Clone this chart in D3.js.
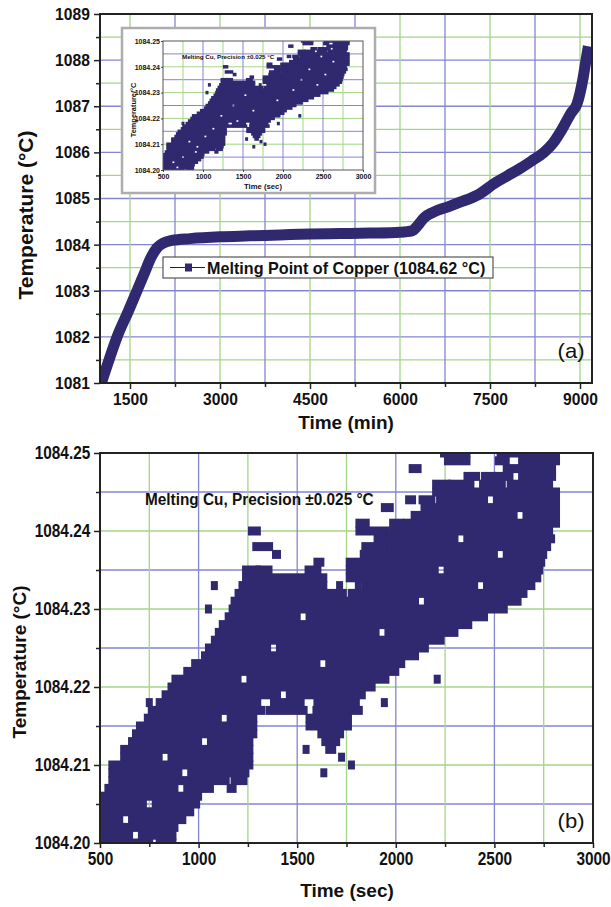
<!DOCTYPE html>
<html>
<head>
<meta charset="utf-8">
<script src="https://cdnjs.cloudflare.com/ajax/libs/d3/7.8.5/d3.min.js"></script>
<style>
body{margin:0;background:#fff}
text{font-family:Arial,"Liberation Sans",Helvetica,sans-serif}
</style>
</head>
<body>
<svg id="chart" width="611" height="907"></svg>
<script>
// ---- panel (a): melting curve ----
var curveTime = [1010,1150,1300,1470,1600,1730,1850,1950,2050,2200,2500,3000,3500,4000,4500,5000,5500,6000,6200,6300,6400,6550,6800,7000,7300,7600,7800,8000,8200,8400,8550,8700,8850,8950,9050,9100,9140];
var curveTemp = [1080.95,1081.5,1082.05,1082.55,1082.95,1083.35,1083.72,1083.93,1084.03,1084.09,1084.13,1084.17,1084.19,1084.21,1084.23,1084.24,1084.25,1084.27,1084.3,1084.42,1084.58,1084.7,1084.82,1084.92,1085.08,1085.35,1085.5,1085.65,1085.82,1086.0,1086.2,1086.5,1086.85,1087.05,1087.6,1088.0,1088.3];
var xTicksA = [1500,3000,4500,6000,7500,9000];
var xMinorA = [2250,3750,5250,6750,8250];
var yTicksA = [1081,1082,1083,1084,1085,1086,1087,1088,1089];
var yMinorA = [1081.5,1082.5,1083.5,1084.5,1085.5,1086.5,1087.5,1088.5];

// ---- panel (b): plateau readings, rows of marks [temp, from sec, to sec] ----
var cloudRows = [
 [1084.200,500,752],[1084.200,800,870],
 [1084.201,500,650],[1084.201,710,870],
 [1084.202,500,880],
 [1084.203,500,600],[1084.203,660,920],
 [1084.204,500,960],
 [1084.205,500,720],[1084.205,780,990],
 [1084.206,520,1000],
 [1084.207,540,880],[1084.207,940,1060],[1084.207,1160,1175],
 [1084.208,560,1140],[1084.208,1180,1230],
 [1084.209,560,900],[1084.209,960,1240],
 [1084.210,560,1260],
 [1084.211,620,800],[1084.211,860,1260],
 [1084.212,620,1260],[1084.212,1660,1680],
 [1084.213,660,1000],[1084.213,1060,1260],[1084.213,1640,1700],
 [1084.214,680,1280],[1084.214,1620,1720],
 [1084.215,700,1280],[1084.215,1560,1760],
 [1084.216,740,1100],[1084.216,1160,1280],[1084.216,1560,1760],
 [1084.217,760,1320],[1084.217,1357,1535],[1084.217,1595,1815],
 [1084.218,800,1300],[1084.218,1380,1520],[1084.218,1600,1800],
 [1084.219,830,1400],[1084.219,1460,1830],
 [1084.220,860,1880],
 [1084.221,880,1200],[1084.221,1260,1950],
 [1084.222,940,2000],
 [1084.223,980,1600],[1084.223,1660,2030],
 [1084.224,1030,2100],
 [1084.225,1050,1350],[1084.225,1410,2150],
 [1084.226,1080,2230],
 [1084.227,1100,1900],[1084.227,1960,2300],
 [1084.228,1120,2370],
 [1084.229,1150,1500],[1084.229,1560,2450],
 [1084.230,1170,2550],
 [1084.231,1180,2100],[1084.231,2160,2620],
 [1084.232,1200,1734],[1084.232,1774,2650],
 [1084.233,1220,1635],[1084.233,1843,2400],[1084.233,2460,2690],
 [1084.234,1238,1536],[1084.234,1555,1635],[1084.234,1764,2720],
 [1084.235,1238,1298],[1084.235,1307,1357],[1084.235,1555,1605],[1084.235,1764,2200],[1084.235,2260,2730],
 [1084.236,1600,1620],[1084.236,1764,2740],
 [1084.237,1390,1400],[1084.237,1835,2500],[1084.237,2560,2750],
 [1084.238,1290,1360],[1084.238,1843,1952],[1084.238,1984,2770],
 [1084.239,1905,1945],[1084.239,1975,2300],[1084.239,2360,2790],
 [1084.240,1268,1298],[1084.240,1813,1952],[1084.240,1984,2034],[1084.240,2054,2780],
 [1084.241,1813,1850],[1084.241,1984,2024],[1084.241,2054,2815],
 [1084.242,2093,2600],[1084.242,2660,2815],
 [1084.243,1942,1972],[1084.243,2143,2815],
 [1084.244,2065,2085],[1084.244,2133,2183],[1084.244,2222,2450],[1084.244,2510,2815],
 [1084.245,2202,2815],
 [1084.246,2202,2262],[1084.246,2282,2381],[1084.246,2440,2540],[1084.246,2580,2780],
 [1084.247,2361,2410],[1084.247,2450,2490],[1084.247,2519,2579],[1084.247,2638,2795],
 [1084.248,2083,2113],[1084.248,2560,2795],
 [1084.249,2262,2361],[1084.249,2520,2560],[1084.249,2638,2815],
 [1084.250,2242,2361],[1084.250,2529,2627],[1084.250,2647,2815]
];
var strayTime = [750,1050,1080,1545,1635,1715,1725,1775,1942,2210,1810];
var strayTemp = [1084.218,1084.230,1084.233,1084.212,1084.209,1084.233,1084.211,1084.210,1084.218,1084.221,1084.233];
var xTicksB = [500,1000,1500,2000,2500,3000];
var xMinorB = [750,1250,1750,2250,2750];
var yTicksB = [1084.20,1084.21,1084.22,1084.23,1084.24,1084.25];
var yMinorB = [1084.205,1084.215,1084.225,1084.235,1084.245];

var BLUE = "#8585d2", GREEN = "#a3d686", INK = "#31296f", FRAME = "#222";
var svg = d3.select("#chart");
svg.append("rect").attr("width",611).attr("height",907).attr("fill","#fff");

function label(g, x, y, str, size, anchor, sx, weight){
  g.append("text")
    .attr("transform","translate("+x+","+y+") scale("+sx+",1)")
    .attr("text-anchor",anchor)
    .attr("font-size",size)
    .attr("font-weight",weight||"bold")
    .attr("fill","#111")
    .text(str);
}
function vtitle(g, x, y, str, size){
  g.append("text")
    .attr("transform","translate("+x+","+y+") rotate(-90)")
    .attr("text-anchor","middle")
    .attr("font-size",size)
    .attr("font-weight","bold")
    .attr("fill","#111")
    .text(str);
}
function grid(g, x, y, xs, col, horiz, w){
  g.selectAll(null).data(xs).enter().append("line")
    .attr("x1",function(d){return horiz ? x.range()[0] : x(d);})
    .attr("x2",function(d){return horiz ? x.range()[1] : x(d);})
    .attr("y1",function(d){return horiz ? y(d) : y.range()[0];})
    .attr("y2",function(d){return horiz ? y(d) : y.range()[1];})
    .attr("stroke",col).attr("stroke-width",w);
}
function clip(id, x, y){
  svg.append("clipPath").attr("id",id).append("rect")
    .attr("x",x.range()[0]).attr("y",y.range()[1])
    .attr("width",x.range()[1]-x.range()[0]).attr("height",y.range()[0]-y.range()[1]);
}
function cloud(g, x, y, w, h){
  g.selectAll(null).data(cloudRows).enter().append("rect")
    .attr("x",function(d){return x(d[1])-w/2;})
    .attr("y",function(d){return y(d[0])-h/2;})
    .attr("width",function(d){return x(d[2])-x(d[1])+w;})
    .attr("height",h)
    .attr("fill",INK);
  g.selectAll(null).data(strayTime).enter().append("rect")
    .attr("x",function(d){return x(d)-w/2;})
    .attr("y",function(d,i){return y(strayTemp[i])-h/2;})
    .attr("width",w).attr("height",h)
    .attr("fill",INK);
}
function ticks(g, axis, vals, size, fmt, pad){
  var a = g.call(axis.tickValues(vals).tickSize(size).tickPadding(pad).tickFormat(fmt));
  a.select(".domain").remove();
  a.selectAll(".tick line").attr("stroke",FRAME).attr("stroke-width",1.5);
  return a;
}

// ================= panel (a) =================
var xA = d3.scaleLinear().domain([1000,9200]).range([100,592]);
var yA = d3.scaleLinear().domain([1081,1089]).range([383,14]);
var gA = svg.append("g");
clip("clipA", xA, yA);
grid(gA, xA, yA, yMinorA, GREEN, true, 1.3);
grid(gA, xA, yA, yTicksA.slice(1,-1), BLUE, true, 1.3);
grid(gA, xA, yA, xMinorA, BLUE, false, 1.3);
grid(gA, xA, yA, xTicksA, GREEN, false, 1.3);

var line = d3.line()
  .x(function(d){return xA(d[0]);})
  .y(function(d){return yA(d[1]);})
  .curve(d3.curveMonotoneX);
gA.append("path")
  .datum(curveTime.map(function(t,i){return [t,curveTemp[i]];}))
  .attr("clip-path","url(#clipA)")
  .attr("d",line)
  .attr("fill","none")
  .attr("stroke",INK)
  .attr("stroke-width",11)
  .attr("stroke-linecap","butt");

// inset
var xI = d3.scaleLinear().domain([500,3000]).range([163,363]);
var yI = d3.scaleLinear().domain([1084.20,1084.25]).range([170,41]);
var gI = svg.append("g");
gI.append("rect").attr("x",122).attr("y",28).attr("width",253).attr("height",165)
  .attr("fill","#fff").attr("stroke","#adadad").attr("stroke-width",2.5);
clip("clipI", xI, yI);
grid(gI, xI, yI, yMinorB, BLUE, true, 1);
grid(gI, xI, yI, yTicksB.slice(1,-1), GREEN, true, 1);
grid(gI, xI, yI, xMinorB, GREEN, false, 1);
grid(gI, xI, yI, xTicksB.slice(1,-1), BLUE, false, 1);
cloud(gI.append("g").attr("clip-path","url(#clipI)"), xI, yI, 3, 3.5);
gI.append("rect").attr("x",163).attr("y",41).attr("width",200).attr("height",129)
  .attr("fill","none").attr("stroke","#555").attr("stroke-width",1);
var iy = ticks(gI.append("g").attr("transform","translate(163,0)"), d3.axisLeft(yI), yTicksB, 2, d3.format(".2f"), 1);
iy.selectAll("text").attr("font-size",7).attr("font-weight","bold").attr("fill","#111");
var ix = ticks(gI.append("g").attr("transform","translate(0,170)"), d3.axisBottom(xI), xTicksB, 2, d3.format("d"), 2);
ix.selectAll("text").attr("font-size",7).attr("font-weight","bold").attr("fill","#111");
gI.selectAll(".tick line").attr("stroke-width",0.8);
label(gI, 263, 189, "Time (sec)", 7.7, "middle", 1);
vtitle(gI, 136, 110, "Temperature/\u00B0C", 7.4);
label(gI, 182, 58.5, "Melting Cu, Precision \u00B10.025 \u00B0C", 6.2, "start", 1);

// legend
var gL = svg.append("g");
gL.append("rect").attr("x",163).attr("y",257).attr("width",330).attr("height",21)
  .attr("fill","#fff").attr("stroke","#555").attr("stroke-width",1.2);
gL.append("line").attr("x1",170).attr("x2",205).attr("y1",267.5).attr("y2",267.5)
  .attr("stroke","#222").attr("stroke-width",1.2);
gL.append("rect").attr("x",185).attr("y",263.5).attr("width",7).attr("height",8).attr("fill",INK);
label(gL, 207, 274, "Melting Point of Copper (1084.62 \u00B0C)", 17, "start", 0.95);

gA.append("rect").attr("x",100).attr("y",14).attr("width",492).attr("height",369)
  .attr("fill","none").attr("stroke",FRAME).attr("stroke-width",2);
var ay = ticks(gA.append("g").attr("transform","translate(100,0)"), d3.axisLeft(yA), yTicksA, 6, d3.format("d"), 5);
ticks(gA.append("g").attr("transform","translate(100,0)"), d3.axisLeft(yA), yMinorA, 4, "", 0);
var ax = ticks(gA.append("g").attr("transform","translate(0,383)"), d3.axisBottom(xA), xTicksA, 6, d3.format("d"), 4);
ticks(gA.append("g").attr("transform","translate(0,383)"), d3.axisBottom(xA), xMinorA, 4, "", 0);
ay.selectAll("text").attr("font-size",17).attr("font-weight","bold").attr("fill","#111").attr("transform","scale(0.92,1)");
ax.selectAll("text").attr("font-size",17).attr("font-weight","bold").attr("fill","#111").attr("transform","scale(0.92,1)");
label(gA, 346, 429, "Time (min)", 19, "middle", 1);
vtitle(gA, 33, 215, "Temperature (\u00B0C)", 21);
label(gA, 571, 358, "(a)", 21, "middle", 1.05, "normal");

// ================= panel (b) =================
var xB = d3.scaleLinear().domain([500,3000]).range([100,593]);
var yB = d3.scaleLinear().domain([1084.20,1084.25]).range([843,453]);
var gB = svg.append("g");
clip("clipB", xB, yB);
grid(gB, xB, yB, yMinorB, BLUE, true, 1.3);
grid(gB, xB, yB, yTicksB.slice(1,-1), GREEN, true, 1.3);
grid(gB, xB, yB, xMinorB, GREEN, false, 1.3);
grid(gB, xB, yB, xTicksB.slice(1,-1), BLUE, false, 1.3);
label(gB, 145, 505, "Melting Cu, Precision \u00B10.025 \u00B0C", 16, "start", 0.96);
cloud(gB.append("g").attr("clip-path","url(#clipB)"), xB, yB, 7, 9);
gB.append("rect").attr("x",100).attr("y",453).attr("width",493).attr("height",390)
  .attr("fill","none").attr("stroke",FRAME).attr("stroke-width",2);
var by = ticks(gB.append("g").attr("transform","translate(100,0)"), d3.axisLeft(yB), yTicksB, 6, d3.format(".2f"), 5);
ticks(gB.append("g").attr("transform","translate(100,0)"), d3.axisLeft(yB), yMinorB, 4, "", 0);
var bx = ticks(gB.append("g").attr("transform","translate(0,843)"), d3.axisBottom(xB), xTicksB, 5, d3.format("d"), 5);
ticks(gB.append("g").attr("transform","translate(0,843)"), d3.axisBottom(xB), xMinorB, 4, "", 0);
by.selectAll("text").attr("font-size",17.5).attr("font-weight","bold").attr("fill","#111").attr("transform","scale(0.88,1)");
bx.selectAll("text").attr("font-size",17.5).attr("font-weight","bold").attr("fill","#111").attr("transform","scale(0.88,1)");
label(gB, 347, 897, "Time (sec)", 19, "middle", 1);
vtitle(gB, 25.5, 662, "Temperature (\u00B0C)", 19);
label(gB, 571, 828, "(b)", 21, "middle", 1.05, "normal");
</script>
</body>
</html>
